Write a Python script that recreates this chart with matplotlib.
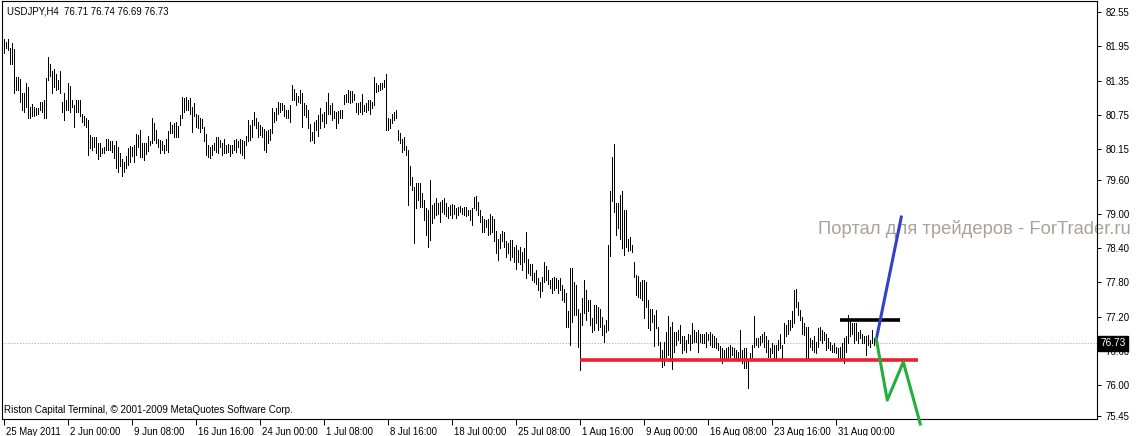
import matplotlib
matplotlib.use("Agg")
import matplotlib.pyplot as plt
from matplotlib.transforms import ScaledTranslation

# --- data ------------------------------------------------------------------
bar_high = [
    82.09, 82.03, 82.08, 81.92, 82.01, 81.90, 81.42, 81.42, 81.37, 81.13,
    81.13, 81.30, 81.24, 80.89, 80.94, 80.88, 80.86, 80.86, 80.98, 80.98,
    81.01, 81.39, 81.77, 81.64, 81.51, 81.55, 81.47, 81.36, 81.51, 80.98,
    81.13, 81.00, 81.31, 81.26, 81.01, 80.92, 81.01, 81.00, 81.01, 80.77,
    80.72, 80.70, 80.65, 80.39, 80.36, 80.35, 80.35, 80.25, 80.25, 80.16,
    80.19, 80.32, 80.33, 80.28, 80.28, 80.22, 80.28, 80.19, 80.07, 79.97,
    79.92, 80.02, 80.16, 80.20, 80.19, 80.22, 80.41, 80.39, 80.48, 80.25,
    80.25, 80.25, 80.38, 80.28, 80.69, 80.60, 80.48, 80.33, 80.31, 80.28,
    80.22, 80.33, 80.47, 80.63, 80.57, 80.60, 80.63, 80.55, 80.74, 81.07,
    81.04, 81.07, 81.01, 81.04, 80.89, 80.95, 80.77, 80.74, 80.69, 80.67,
    80.54, 80.41, 80.22, 80.19, 80.22, 80.26, 80.35, 80.35, 80.31, 80.25,
    80.33, 80.22, 80.24, 80.22, 80.22, 80.31, 80.32, 80.28, 80.32, 80.31,
    80.28, 80.38, 80.65, 80.57, 80.66, 80.80, 80.69, 80.63, 80.57, 80.53,
    80.49, 80.47, 80.48, 80.49, 80.86, 80.79, 80.86, 80.98, 80.96, 80.95,
    80.92, 80.84, 80.83, 80.92, 81.27, 81.20, 81.13, 81.08, 81.18,
    81.14, 80.95, 80.92, 80.84, 80.59, 80.45, 80.63, 80.66, 80.74, 80.86,
    80.77, 80.80, 80.98, 81.14, 80.92, 80.95, 80.82, 80.80, 80.82, 80.84,
    80.83, 81.10, 81.12, 81.18, 81.17, 81.17, 81.12, 80.95, 80.95, 80.98,
    81.11, 80.92, 80.95, 81.00, 81.00, 80.98, 81.41, 81.31, 81.27, 81.30,
    81.30, 81.36, 81.46, 80.70, 80.67, 80.77, 80.79, 80.83, 80.48, 80.42,
    80.33, 80.36, 80.20, 80.13, 79.84, 79.66, 79.48, 79.54, 79.55, 79.55,
    79.37, 79.25, 79.10, 79.07, 79.60, 79.16, 79.19, 79.28, 79.19, 79.22,
    79.25, 79.28, 79.20, 79.13, 79.16, 79.18, 79.16, 79.10, 79.13, 79.14,
    79.10, 79.13, 79.13, 79.08, 79.08, 79.10, 79.30, 79.32, 79.22, 79.08,
    78.97, 78.91, 78.90, 78.91, 79.01, 78.97, 78.91, 78.71, 78.57, 78.66,
    78.71, 78.69, 78.52, 78.49, 78.54, 78.55, 78.43, 78.46, 78.37, 78.43,
    78.34, 78.40, 78.69, 78.21, 78.12, 78.12, 77.96, 78.02, 77.87, 77.81,
    77.90, 78.16, 78.08, 78.02, 77.84, 77.87, 77.90, 77.87, 77.84, 77.87,
    77.75, 77.68, 77.61, 77.29, 78.05, 78.05, 77.81, 77.75, 77.34, 77.27,
    77.52, 77.84, 77.67, 77.49, 77.49,
    77.17, 77.40, 77.40, 77.37, 77.34,
    77.20, 77.05, 77.14, 78.46, 79.40, 80.01, 80.23, 79.19, 79.20, 79.34,
    79.40, 79.07, 79.07, 78.57, 78.60, 78.46, 78.16, 77.93, 77.91, 77.81,
    77.84, 77.84, 77.81, 77.49, 77.34, 77.34, 77.23, 77.31, 77.02, 76.76,
    76.61, 76.76, 76.93, 77.21, 77.02, 77.11, 76.93, 76.93, 76.96, 77.05,
    76.85, 76.85, 76.79, 76.90, 76.87, 77.09, 76.96, 76.93, 76.96, 76.90,
    76.89, 76.90, 76.93, 76.90, 76.93, 76.90, 76.85, 76.82, 76.73, 76.68,
    76.64, 76.61, 76.64, 76.67, 76.70, 76.67, 76.64, 76.61, 76.58, 76.96,
    76.61, 76.64, 76.64, 76.41, 76.55, 76.70, 77.21, 76.82, 76.82, 76.85,
    76.90, 76.93, 76.85, 76.79, 76.64, 76.73, 76.70, 76.70, 76.79, 76.90,
    76.70, 77.08, 77.05, 77.14, 77.14, 77.29, 77.67, 77.68, 77.46, 77.31,
    77.20, 77.08, 77.02, 77.02, 76.82, 76.79, 76.85, 76.76, 76.99, 77.01,
    76.96, 76.93, 76.90, 76.82, 76.76, 76.70, 76.73, 76.67, 76.64, 76.67,
    76.73, 76.82, 76.85, 77.23, 77.14, 77.08, 77.08, 77.08, 76.93, 76.96,
    76.90, 76.85, 76.85, 76.87, 76.79, 76.96, 76.82,
]
bar_low = [
    81.84, 81.92, 81.89, 81.65, 81.65, 81.13, 81.18, 81.18, 80.98, 80.84,
    80.80, 80.89, 80.69, 80.70, 80.73, 80.73, 80.74, 80.77, 80.83, 80.80,
    80.69, 80.69, 81.36, 81.43, 81.14, 81.24, 81.18, 81.21, 81.13, 80.80,
    80.66, 80.83, 80.83, 80.80, 80.88, 80.54, 80.80, 80.80, 80.72, 80.63,
    80.57, 80.54, 80.04, 80.16, 80.13, 80.19, 80.07, 79.97, 80.02, 80.07,
    80.08, 80.13, 80.13, 80.13, 80.10, 79.98, 79.81, 79.75, 79.84, 79.67,
    79.75, 79.81, 79.87, 79.92, 80.02, 79.91, 80.04, 80.19, 80.01, 80.01,
    79.95, 80.06, 80.12, 80.22, 80.25, 80.31, 80.26, 80.19, 80.07, 80.13,
    80.08, 80.13, 80.10, 80.42, 80.42, 80.36, 80.36, 80.35, 80.57, 80.69,
    80.80, 80.84, 80.83, 80.77, 80.45, 80.72, 80.54, 80.51, 80.45, 80.51,
    80.29, 80.04, 80.01, 79.98, 80.04, 80.13, 80.10, 80.07, 80.19, 80.04,
    80.07, 80.07, 80.10, 80.02, 80.07, 80.13, 80.10, 80.19, 80.08, 80.04,
    79.98, 80.22, 80.29, 80.31, 80.36, 80.57, 80.51, 80.36, 80.39, 80.36,
    80.13, 80.10, 80.25, 80.31, 80.42, 80.63, 80.66, 80.77, 80.80, 80.83,
    80.73, 80.70, 80.70, 80.63, 81.01, 81.00, 80.92, 80.98, 80.96,
    80.54, 80.74, 80.71, 80.51, 80.28, 80.30, 80.25, 80.48, 80.37, 80.51,
    80.64, 80.54, 80.60, 80.77, 80.76, 80.66, 80.69, 80.51, 80.60, 80.69,
    80.69, 80.94, 80.98, 80.98, 80.96, 80.98, 81.00, 80.79, 80.77, 80.80,
    80.77, 80.82, 80.80, 80.83, 80.76, 80.86, 80.92, 81.15, 81.17, 81.18,
    81.20, 81.24, 80.48, 80.48, 80.51, 80.60, 80.66, 80.70, 80.30, 80.25,
    80.10, 80.13, 80.04, 79.16, 79.51, 79.42, 78.49, 79.10, 79.25, 79.13,
    79.13, 78.90, 78.63, 78.43, 78.54, 78.85, 78.93, 78.99, 79.01, 78.87,
    79.04, 79.01, 78.96, 78.93, 78.99, 78.93, 79.01, 78.93, 78.99, 79.04,
    79.01, 78.99, 78.96, 78.99, 78.90, 78.81, 79.10, 79.07, 78.99, 78.87,
    78.69, 78.69, 78.78, 78.63, 78.66, 78.69, 78.52, 78.31, 78.19, 78.40,
    78.52, 78.43, 78.25, 78.31, 78.19, 78.25, 78.16, 78.03, 78.16, 78.13,
    78.02, 78.16, 77.87, 77.96, 77.93, 77.84, 77.81, 77.78, 77.67, 77.55,
    77.64, 77.81, 77.84, 77.78, 77.70, 77.61, 77.67, 77.70, 77.62, 77.67,
    77.49, 77.46, 77.01, 77.01, 76.70, 77.11, 77.23, 77.23, 76.67, 76.26,
    77.05, 77.27, 77.14, 77.30, 77.05,
    76.93, 76.96, 77.08, 76.96, 77.02,
    76.87, 76.76, 76.93, 76.96, 78.26, 79.24, 79.03, 78.63, 78.75, 78.57,
    78.40, 78.28, 78.43, 78.36, 78.37, 78.34, 77.90, 77.58, 77.55, 77.52,
    77.49, 77.17, 77.37, 76.99, 76.96, 77.11, 76.68, 76.99, 76.70, 76.44,
    76.32, 76.35, 76.49, 76.52, 76.41, 76.27, 76.58, 76.70, 76.79, 76.73,
    76.55, 76.61, 76.58, 76.73, 76.61, 76.73, 76.76, 76.76, 76.58, 76.76,
    76.73, 76.73, 76.67, 76.79, 76.70, 76.67, 76.67, 76.64, 76.61, 76.44,
    76.38, 76.44, 76.46, 76.44, 76.49, 76.52, 76.44, 76.44, 76.41, 76.44,
    76.38, 76.29, 76.29, 75.94, 76.44, 76.49, 76.67, 76.70, 76.67, 76.70,
    76.76, 76.67, 76.58, 76.49, 76.49, 76.55, 76.44, 76.46, 76.61, 76.64,
    76.44, 76.73, 76.85, 76.90, 76.96, 77.02, 77.08, 77.37, 77.23, 77.14,
    76.90, 76.87, 76.46, 76.46, 76.67, 76.61, 76.58, 76.55, 76.67, 76.79,
    76.73, 76.79, 76.61, 76.64, 76.61, 76.58, 76.58, 76.55, 76.49, 76.46,
    76.44, 76.39, 76.58, 76.73, 76.85, 76.89, 76.73, 76.79, 76.73, 76.82,
    76.73, 76.73, 76.52, 76.70, 76.67, 76.73, 76.70,
]

price_ticks = [82.55, 81.95, 81.35, 80.75, 80.15, 79.60, 79.00,
               78.40, 77.80, 77.20, 76.60, 76.00, 75.45]
time_labels = ["25 May 2011", "2 Jun 00:00", "9 Jun 08:00", "16 Jun 16:00",
               "24 Jun 00:00", "1 Jul 08:00", "8 Jul 16:00", "18 Jul 00:00",
               "25 Jul 08:00", "1 Aug 16:00", "9 Aug 00:00", "16 Aug 08:00",
               "23 Aug 16:00", "31 Aug 00:00"]
bars_per_label = 32
last_price = 76.73

# drawn analysis lines (bar index, price)
support_x = [288, 457.4]
support_y = [76.44, 76.44]
resist_x = [418.4, 448.4]
resist_y = [77.14, 77.14]
up_x = [436.4, 448.9]
up_y = [76.80, 78.95]
down_x = [436.4, 441.9, 449.9, 458.4]
down_y = [76.80, 75.73, 76.40, 75.31]

FONT = "Liberation Sans"
SMALL = 6.9
W, H = 1136, 436

fig = plt.figure(figsize=(W / 100, H / 100), dpi=100)
ax = fig.add_axes([2 / W, 17 / H, 1095 / W, 418 / H])

# one-pixel bars, two pixels apart (MetaTrader bar chart)
idx = list(range(len(bar_high)))
ax.vlines(idx, bar_low, bar_high, colors="black", linewidth=0.6,
          antialiased=False, zorder=3)

ax.axhline(last_price, color="#c0b8c0", linestyle=(0, (1.5, 1.5)),
           linewidth=0.7, zorder=1)

ax.plot(support_x, support_y, color="#e8222e", linewidth=2.6,
        solid_capstyle="butt", zorder=4)
ax.plot(resist_x, resist_y, color="black", linewidth=2.6,
        solid_capstyle="butt", zorder=4)
ax.plot(up_x, up_y, color="#3341c8", linewidth=2.2, zorder=5, clip_on=False)
ax.plot(down_x, down_y, color="#22b03c", linewidth=2.2, zorder=5,
        clip_on=False)

ax.set_xlim(-0.75, 546.75)
ax.set_ylim(75.397, 82.75)

# price scale on the right
ax.yaxis.tick_right()
ax.set_yticks(price_ticks)
ax.set_yticklabels([f"{p:.2f}" for p in price_ticks])
ax.tick_params(axis="y", direction="out", length=3, width=0.7, pad=3,
               labelsize=SMALL)

# time scale
ax.set_xticks([i * bars_per_label for i in range(len(time_labels))])
ax.set_xticklabels(time_labels, ha="left")
ax.tick_params(axis="x", direction="out", length=4, width=0.7, pad=1.5,
               labelsize=SMALL)
shift = ScaledTranslation(2 / 100, 0, fig.dpi_scale_trans)
for lab in ax.get_xticklabels():
    lab.set_transform(lab.get_transform() + shift)

for lab in ax.get_xticklabels() + ax.get_yticklabels():
    lab.set_fontfamily(FONT)

for s in ax.spines.values():
    s.set_linewidth(0.8)
    s.set_color("black")

# current price marker
ax.annotate(f"{last_price:.2f}", xy=(1.0, last_price),
            xycoords=("axes fraction", "data"), xytext=(2.5, 0),
            textcoords="offset points", va="center", ha="left",
            fontsize=7.3, fontfamily=FONT, color="white",
            bbox=dict(boxstyle="square,pad=0.25", fc="black", ec="black"),
            annotation_clip=False, zorder=6)

ax.text(0.005, 0.975, "USDJPY,H4  76.71 76.74 76.69 76.73",
        transform=ax.transAxes, fontsize=SMALL, fontfamily=FONT, va="center",
        ha="left")
ax.text(0.002, 0.022,
        "Riston Capital Terminal, \u00a9 2001-2009 MetaQuotes Software Corp.",
        transform=ax.transAxes, fontsize=7.1, fontfamily=FONT, va="center",
        ha="left")
ax.text(0.745, 0.455, "Портал для трейдеров - ForTrader.ru",
        transform=ax.transAxes, fontsize=13.2, fontfamily=FONT,
        color="#aaa0a0", va="center", ha="left", clip_on=False, zorder=2)

fig.savefig("out.png", dpi=100)
